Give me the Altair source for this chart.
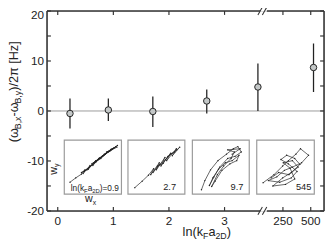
import altair as alt
import pandas as pd

# ---------------- data ----------------
point_x = [0.22, 0.91, 1.71, 2.68, 3.60, 4.60]
point_y = [-0.5, 0.2, -0.1, 2.0, 4.8, 8.7]
err_low = [-3.5, -2.0, -3.2, -0.5, 0.0, 3.8]
err_high = [2.5, 2.5, 2.9, 4.3, 9.5, 13.5]

x_tick_values = [0, 1, 2, 3, 4.05, 4.55]
x_tick_labels = ["0", "1", "2", "3", "250", "500"]
y_label_values = [-20, -10, 0, 10, 20]
y_label_texts = ["-20", "-10", "0", "10", "20"]
y_tick_values = [-20, -15, -10, -5, 0, 5, 10, 15, 20]
x_break = 3.70

inset_texts = ["", "2.7", "9.7", "545"]

wx_a = [0.10, 0.20, 0.30, 0.36, 0.33, 0.45, 0.42, 0.55, 0.50, 0.62, 0.58, 0.70, 0.66, 0.78, 0.74, 0.86, 0.80, 0.93, 0.88, 0.72, 0.64, 0.52, 0.40, 0.30, 0.44, 0.60, 0.76, 0.90,
        0.48, 0.68, 0.84, 0.56, 0.35, 0.62, 0.82, 0.70, 0.92]
wy_a = [0.22, 0.30, 0.37, 0.45, 0.38, 0.53, 0.46, 0.62, 0.53, 0.67, 0.63, 0.73, 0.70, 0.79, 0.78, 0.85, 0.80, 0.90, 0.86, 0.74, 0.66, 0.58, 0.45, 0.40, 0.50, 0.66, 0.78, 0.88,
        0.56, 0.71, 0.84, 0.60, 0.42, 0.66, 0.83, 0.74, 0.87]
wx_b = [0.12, 0.25, 0.36, 0.45, 0.40, 0.55, 0.50, 0.65, 0.58, 0.75, 0.68, 0.85, 0.78, 0.91, 0.82, 0.70, 0.62, 0.52, 0.44, 0.56, 0.66, 0.76, 0.86]
wy_b = [0.12, 0.24, 0.35, 0.47, 0.36, 0.58, 0.45, 0.68, 0.52, 0.76, 0.62, 0.84, 0.71, 0.87, 0.78, 0.70, 0.57, 0.52, 0.40, 0.55, 0.64, 0.75, 0.82]
wx_c = [0.16, 0.22, 0.32, 0.45, 0.60, 0.72, 0.80, 0.86, 0.75, 0.62, 0.48, 0.38, 0.30, 0.36, 0.46, 0.58, 0.70, 0.82, 0.78, 0.66, 0.52, 0.40, 0.34, 0.44, 0.55, 0.68, 0.74, 0.62, 0.84, 0.70]
wy_c = [0.08, 0.25, 0.45, 0.62, 0.74, 0.84, 0.88, 0.78, 0.70, 0.66, 0.50, 0.32, 0.16, 0.30, 0.46, 0.58, 0.62, 0.72, 0.62, 0.56, 0.44, 0.24, 0.14, 0.36, 0.52, 0.66, 0.78, 0.82, 0.84, 0.74]
wx_d = [0.11, 0.30, 0.45, 0.55, 0.68, 0.76, 0.90, 0.78, 0.62, 0.48, 0.35, 0.20, 0.40, 0.60, 0.70, 0.55, 0.42, 0.52, 0.66, 0.75, 0.60, 0.45, 0.28, 0.50, 0.66, 0.58, 0.46, 0.62, 0.72, 0.56, 0.38, 0.25]
wy_d = [0.21, 0.36, 0.52, 0.62, 0.74, 0.84, 0.72, 0.58, 0.50, 0.44, 0.32, 0.25, 0.22, 0.30, 0.42, 0.56, 0.64, 0.72, 0.66, 0.55, 0.40, 0.30, 0.15, 0.18, 0.28, 0.48, 0.58, 0.62, 0.50, 0.36, 0.40, 0.30]
traces_wx = [wx_a, wx_b, wx_c, wx_d]
traces_wy = [wy_a, wy_b, wy_c, wy_d]

# ---------------- layout ----------------
W, H = 284, 205
X_DOMAIN = [-0.193, 4.789]
Y_DOMAIN = [-20, 20]
inset_x0 = [0.1175, 1.263, 2.421, 3.579]
inset_x1 = [1.1456, 2.286, 3.444, 4.614]
inset_y0, inset_y1 = -16.63, -5.83
inset_text_dx = [0, -7, -4, -1]
FONT = "Liberation Sans"
INK = "#222222"
AX = "#333333"

xs = alt.Scale(domain=X_DOMAIN, nice=False, zero=False)
ys = alt.Scale(domain=Y_DOMAIN, nice=False, zero=False)

pts = pd.DataFrame({"x": point_x, "y": point_y, "lo": err_low, "hi": err_high})
one = pd.DataFrame({"a": [0]})

rows = []
for i in range(4):
    for k, (wx, wy) in enumerate(zip(traces_wx[i], traces_wy[i])):
        rows.append({"inset": i, "order": k,
                     "x": inset_x0[i] + wx * (inset_x1[i] - inset_x0[i]),
                     "y": inset_y0 + wy * (inset_y1 - inset_y0)})
tr = pd.DataFrame(rows)
boxes = pd.DataFrame({"x0": inset_x0, "x1": inset_x1, "y0": [inset_y0] * 4, "y1": [inset_y1] * 4,
                      "t": inset_texts})


def X(f):
    return alt.X(f, scale=xs, axis=None)


def Y(f):
    return alt.Y(f, scale=ys, axis=None)


layers = []
layers.append(alt.Chart(boxes).mark_rect(fill="white", stroke="#9a9a9a", strokeWidth=1.2).encode(
    x=X("x0:Q"), x2="x1:Q", y=Y("y0:Q"), y2="y1:Q"))
layers.append(alt.Chart(tr).mark_line(color=INK, strokeWidth=0.7).encode(
    x=X("x:Q"), y=Y("y:Q"), detail="inset:N", order="order:Q"))
layers.append(alt.Chart(tr).mark_point(filled=True, color=INK, size=2, opacity=1).encode(
    x=X("x:Q"), y=Y("y:Q")))
for i in range(1, 4):
    layers.append(alt.Chart(boxes.iloc[[i]]).mark_text(
        align="right", baseline="alphabetic", fontSize=9.5, font=FONT, color=INK,
        dx=inset_text_dx[i] - 2).encode(x=X("x1:Q"), y=alt.value(184), text="t:N"))

layers.append(alt.Chart(one).mark_rule(color="#999999", strokeWidth=1).encode(y=Y("a:Q")))
layers.append(alt.Chart(pts).mark_rule(color=INK, strokeWidth=1.3).encode(
    x=X("x:Q"), y=Y("lo:Q"), y2="hi:Q"))
layers.append(alt.Chart(pts).mark_point(filled=True, fill="#c4c8c8", stroke=INK, strokeWidth=1,
                                        size=44, shape="circle", opacity=1).encode(
    x=X("x:Q"), y=Y("y:Q")))

# tick labels
xl = pd.DataFrame({"v": x_tick_values, "t": x_tick_labels})
yl = pd.DataFrame({"v": y_label_values, "t": y_label_texts})
layers.append(alt.Chart(xl).mark_text(fontSize=12, font=FONT, color=INK, baseline="middle",
                                      align="center").encode(
    x=X("v:Q"), y=alt.value(H + 10), text="t:N"))
# the topmost label is nudged down so it stays inside the page
layers.append(alt.Chart(yl).transform_filter("datum.v < 20").mark_text(
    fontSize=12, font=FONT, color=INK, baseline="middle", align="right").encode(
    y=Y("v:Q"), x=alt.value(-3), text="t:N"))
layers.append(alt.Chart(yl).transform_filter("datum.v >= 20").mark_text(
    fontSize=12, font=FONT, color=INK, baseline="middle", align="right", dy=4).encode(
    y=Y("v:Q"), x=alt.value(-3), text="t:N"))

# ticks (inward)
xt = pd.DataFrame({"v": x_tick_values})
yt = pd.DataFrame({"v": y_tick_values})
layers.append(alt.Chart(xt).mark_rule(color=AX, strokeWidth=1.2).encode(
    x=X("v:Q"), y=alt.value(H), y2=alt.value(H - 4)))
layers.append(alt.Chart(xt).mark_rule(color=AX, strokeWidth=1.2).encode(
    x=X("v:Q"), y=alt.value(0), y2=alt.value(4)))
layers.append(alt.Chart(yt).mark_rule(color=AX, strokeWidth=1.2).encode(
    y=Y("v:Q"), x=alt.value(0), x2=alt.value(4)))
layers.append(alt.Chart(yt).mark_rule(color=AX, strokeWidth=1.2).encode(
    y=Y("v:Q"), x=alt.value(W), x2=alt.value(W - 4)))

# frame with break
seg = pd.DataFrame({"a": [X_DOMAIN[0], x_break + 0.06], "b": [x_break - 0.06, X_DOMAIN[1]]})
slashes = pd.DataFrame({"a": [x_break - 0.10, x_break - 0.02], "b": [x_break - 0.02, x_break + 0.06]})
for yy in (0, H):
    layers.append(alt.Chart(seg).mark_rule(color=AX, strokeWidth=1.6).encode(
        x=X("a:Q"), x2="b:Q", y=alt.value(yy)))
    layers.append(alt.Chart(slashes).mark_rule(color=AX, strokeWidth=1.1).encode(
        x=X("a:Q"), x2="b:Q", y=alt.value(yy + 4), y2=alt.value(yy - 4)))
for xx in (0, W):
    layers.append(alt.Chart(one).mark_rule(color=AX, strokeWidth=1.6).encode(
        x=alt.value(xx), y=alt.value(0), y2=alt.value(H)))

# composed texts with subscripts
CW = {"(": 333, ")": 333, "ω": 690, "-": 333, "/": 278, "2": 556, "π": 570, " ": 278, "[": 278,
      "H": 722, "z": 500, "]": 278, "B": 667, ",": 278, "x": 500, "y": 500, "l": 222, "n": 556,
      "k": 500, "F": 611, "a": 556, "D": 722, "=": 584, "0": 556, ".": 278, "9": 556, "w": 722}


def tw(s, size):
    return sum(CW.get(c, 556) for c in s) * size / 1000.0


def composed(pieces, x, y, angle, size, sub_size, sub_dy, anchor="start"):
    total = sum(tw(t, sub_size if s else size) for t, s in pieces)
    off = -total / 2 if anchor == "center" else 0
    out = []
    for t, s in pieces:
        fs = sub_size if s else size
        out.append(alt.Chart(one).mark_text(
            text=t, fontSize=fs, font=FONT, color=INK, align="left", baseline="alphabetic",
            angle=angle, dx=off, dy=sub_dy if s else 0).encode(x=alt.value(x), y=alt.value(y)))
        off += tw(t, fs)
    return out


layers += composed([("(ω", False), ("B,x", True), ("-ω", False), ("B,y", True), (")/2π [Hz]", False)],
                   -30, 83.5, 270, 13, 9, 3, anchor="center")
layers += composed([("ln(k", False), ("F", True), ("a", False), ("2D", True), (")", False)],
                   139, 231, 0, 13, 9, 3)
layers += composed([("ln(k", False), ("F", True), ("a", False), ("2D", True), (")=0.9", False)],
                   24.3, 184.3, 0, 8.5, 6, 2)
layers += composed([("w", False), ("y", True)], 10, 168, 270, 11, 7, 2.5)
layers += composed([("w", False), ("x", True)], 39, 196, 0, 11, 7, 2.5)

chart = alt.layer(*layers).properties(
    width=W, height=H,
    autosize=alt.AutoSizeParams(type="none"),
    padding={"left": 40, "top": 0, "right": 1, "bottom": 39},
).configure_view(stroke=None).configure(background="white")

chart.save("out.html", embed_options={"renderer": "svg", "actions": False})
